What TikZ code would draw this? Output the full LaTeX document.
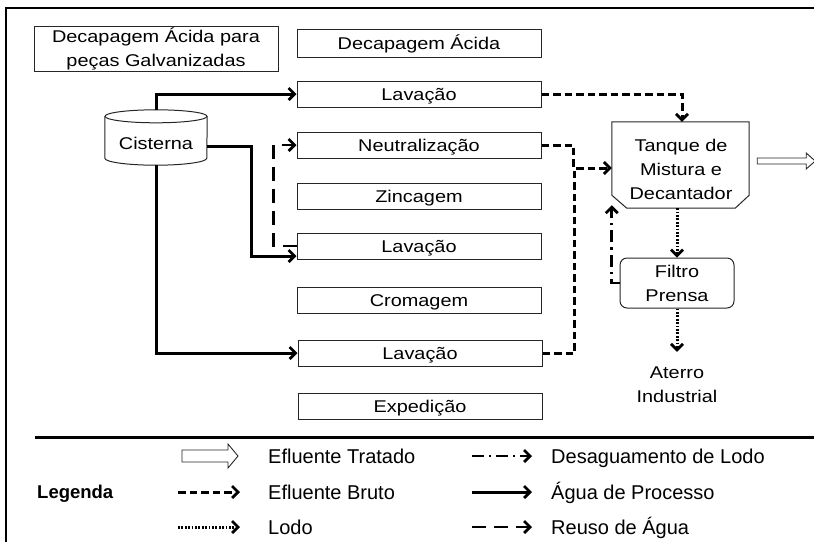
\documentclass[tikz,border=0pt]{standalone}
\usepackage{fontspec}
\setmainfont{Liberation Sans}
\newfontfamily\bxfont[FakeStretch=1.17]{Liberation Sans}
\usetikzlibrary{arrows.meta,calc}
\begin{document}
\begin{tikzpicture}[x=1pt,y=-1pt,
  tip/.style={-{Straight Barb[length=6pt,width=12pt,line width=2.8pt]}},
  box/.style={draw=black!85,line width=1pt,minimum width=244pt,minimum height=26pt,inner sep=0pt,
    font=\bxfont\fontsize{17}{24}\selectfont,text height=12.2pt,text depth=0pt},
  btxt/.style={inner sep=0pt,font=\bxfont\fontsize{17}{24}\selectfont,align=center},
  ltxt/.style={inner sep=0pt,anchor=west,font=\fontsize{20}{24}\selectfont,text height=14.3pt,text depth=0pt},
  proc/.style={line width=3pt,tip},
  eff/.style={line width=3pt,dash pattern=on 7.5pt off 4pt,tip},
  reuso/.style={line width=2.8pt,dash pattern=on 14pt off 8pt,tip},
  lodo/.style={line width=3pt,dash pattern=on 1.8pt off 1.6pt,tip},
  desag/.style={line width=2.8pt,dash pattern=on 12pt off 5pt on 2.2pt off 5pt,tip},
  hollow/.style={draw=black!85,line width=0.9pt,fill=white},
  shp/.style={draw=black!85,line width=1pt}
]
\useasboundingbox (0,0) rectangle (814,542);
% frame
\draw[line width=1.4pt] (6,542) -- (6,8) -- (814,8);
\draw[line width=3pt] (35,437) -- (814,437);

% process boxes
\node[box,minimum height=45pt,align=center,text height=,text depth=] (dag) at (156,48.5) {Decapagem Ácida para\\peças Galvanizadas};
\node[box,minimum height=28pt] (da) at (419,43) {Decapagem Ácida};
\node[box] (lav1) at (419,94) {Lavação};
\node[box] (neut) at (419,145) {Neutralização};
\node[box] (zinc) at (419,196) {Zincagem};
\node[box] (lav2) at (419,246) {Lavação};
\node[box] (crom) at (419,300) {Cromagem};
\node[box] (lav3) at (420,353) {Lavação};
\node[box] (exp) at (420,406.5) {Expedição};

% cisterna
\node[inner sep=0pt,minimum width=102pt,minimum height=55pt,font=\bxfont\fontsize{17}{24}\selectfont,text height=12.2pt,text depth=0pt] (cis) at (156,137.5) {\raisebox{-5.5pt}{Cisterna}};
\draw[shp] ([yshift=-6.5pt]cis.north west) -- ([yshift=7pt]cis.south west)
  arc[start angle=180,end angle=360,x radius=51pt,y radius=7pt] -- ([yshift=-6.5pt]cis.north east);
\draw[shp] ([yshift=-6.5pt]cis.north) ellipse[x radius=51pt,y radius=6.5pt];

% tank
\node[inner sep=0pt,minimum width=137pt,minimum height=86pt] (tank) at (680.5,165) {};
\draw[shp] (tank.north west) -- (tank.north east) -- ([yshift=13pt]tank.south east)
  -- ([xshift=-14pt]tank.south east) -- ([xshift=15pt]tank.south west)
  -- ([yshift=13pt]tank.south west) -- cycle;
\node[btxt] (tanktxt) at (681,169.5) {Tanque de\\Mistura e\\Decantador};
\draw[hollow] ([xshift=8pt,yshift=7pt]tank.east) -- ++(49,0) -- ++(0,-5) -- ++(9,8) -- ++(-9,8) -- ++(0,-5) -- ++(-49,0) -- cycle;

% filter
\node[shp,rounded corners=7pt,minimum width=114pt,minimum height=50pt,btxt] (filt) at (677,283) {Filtro\\Prensa};
\node[btxt] (ater) at (677,385) {Aterro\\Industrial};

% process water
\draw[proc] (cis.north) |- (lav1.west);
\draw[proc] ([yshift=-8.5pt]cis.east) -| ([xshift=-45pt,yshift=-10pt]lav2.west) -- ([yshift=-10pt]lav2.west);
\draw[proc] (cis.south) |- (lav3.west);

% water reuse
\draw[reuso] (lav2.west) -- ++(-23,0) |- (neut.west);

% raw effluent
\draw[eff] (lav1.east) -| ([xshift=1.5pt]tank.north);
\draw[eff] (neut.east) -- ++(32,0) |- ([yshift=-3pt]tank.west);
\draw[eff,-] (lav3.east) -- ++(32,0) -- ++(0,-185);

% sludge
\draw[lodo] (tank.south -| filt.north) -- (filt.north);
\draw[lodo] (filt.south) -- ([yshift=15pt]ater.north);
\draw[desag] (filt.west) -| ([yshift=3pt]tank.south west);

% legend
\node[inner sep=0pt,anchor=west,font=\bfseries\fontsize{18.5}{24}\selectfont,text height=13.3pt,text depth=0pt] (leg) at (37,492) {Legenda};
\node[ltxt] (t1) at (268,456) {Efluente Tratado};
\node[ltxt] (t2) at (268,492) {Efluente Bruto};
\node[ltxt] (t3) at (268,527) {Lodo};
\node[ltxt] (t4) at (551,456) {Desaguamento de Lodo};
\node[ltxt] (t5) at (551,492) {Água de Processo};
\node[ltxt] (t6) at (551,527) {Reuso de Água};

\draw[hollow] ([xshift=-86pt,yshift=6pt]t1.west) -- ++(46,0) -- ++(0,-6) -- ++(10,12) -- ++(-10,12) -- ++(0,-6) -- ++(-46,0) -- cycle;
\draw[eff] ([xshift=-90pt]t2.west) -- ([xshift=-28pt]t2.west);
\draw[lodo] ([xshift=-90pt]t3.west) -- ([xshift=-28pt]t3.west);
\draw[desag] ([xshift=-79pt]t4.west) -- ([xshift=-19pt]t4.west);
\draw[proc] ([xshift=-79pt]t5.west) -- ([xshift=-19pt]t5.west);
\draw[reuso] ([xshift=-79pt]t6.west) -- ([xshift=-19pt]t6.west);
\end{tikzpicture}
\end{document}
